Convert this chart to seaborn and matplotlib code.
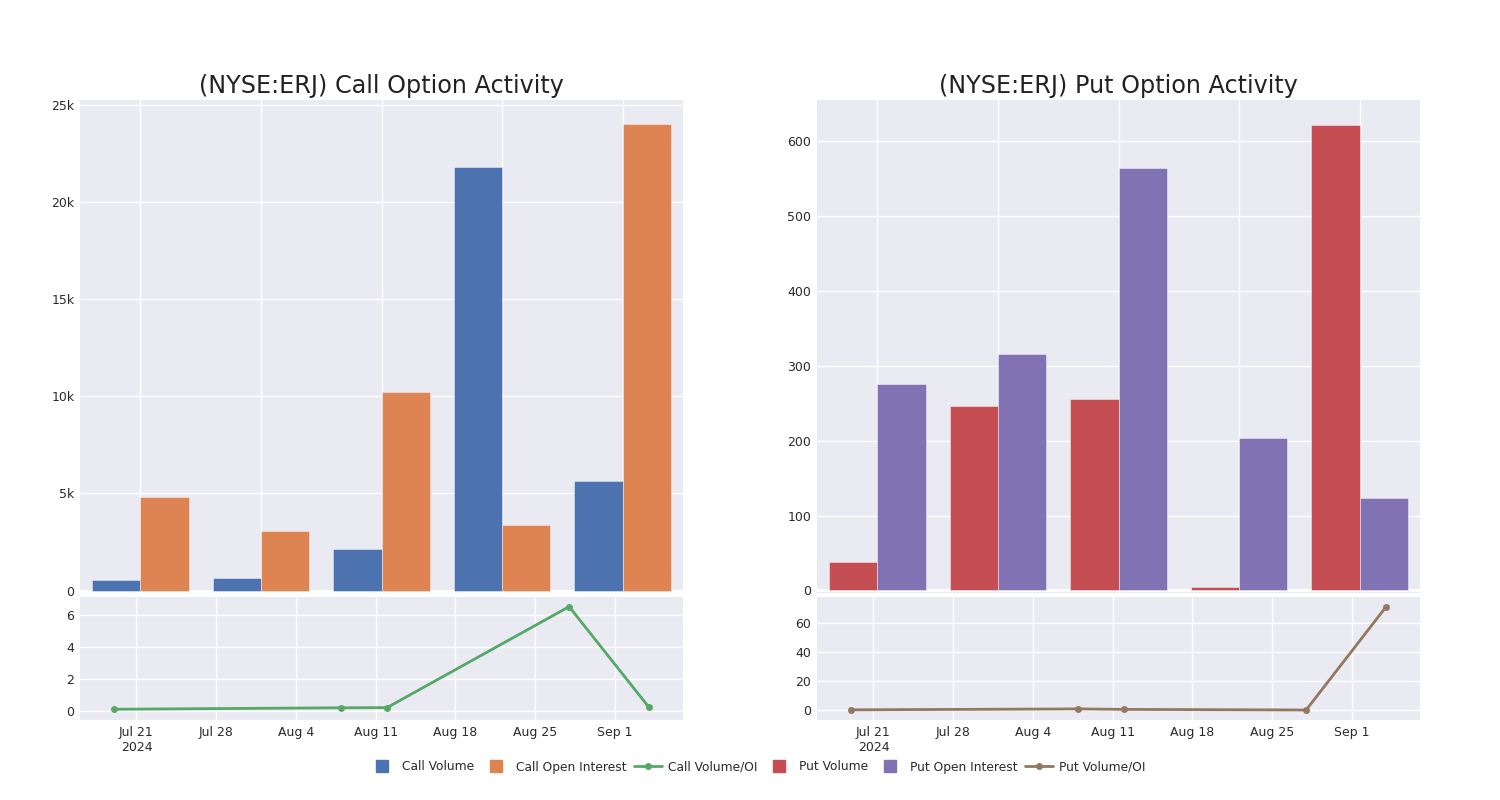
import matplotlib
matplotlib.use("Agg")
import matplotlib.pyplot as plt
import matplotlib.dates as mdates
from matplotlib.lines import Line2D
from matplotlib.ticker import FixedLocator, FuncFormatter
import numpy as np
import pandas as pd
import seaborn as sns

# ---------------- data ----------------
groups = ["Jul 19", "Aug 8", "Aug 12", "Aug 28", "Sep 4"]
ratio_dates = pd.to_datetime(["2024-07-19", "2024-08-08", "2024-08-12", "2024-08-28", "2024-09-04"])
call_volume = [540, 640, 2140, 21800, 5660]
call_oi = [4830, 3050, 10230, 3360, 24020]
call_ratio = [0.11, 0.20, 0.21, 6.50, 0.24]
put_volume = [38, 246, 256, 5, 622]
put_oi = [276, 316, 564, 203, 123]
put_ratio = [0.14, 0.78, 0.45, 0.03, 71.3]

c_blue, c_orange, c_green = "#4C72B0", "#DD8452", "#55A868"
c_red, c_purple, c_brown = "#C44E52", "#8172B3", "#937860"

sns.set_theme(style="darkgrid", rc={"axes.facecolor": "#EAEAF2", "grid.color": "white"})
plt.rcParams["font.family"] = ["DejaVu Sans"]

fig = plt.figure(figsize=(15, 8), dpi=100)

W, H = 1500, 800
def box(l, t, r, b):
    return [l / W, 1 - b / H, (r - l) / W, (b - t) / H]

xlim_dates = (pd.Timestamp("2024-07-16 01:00"), pd.Timestamp("2024-09-07 00:00"))

def k_fmt(v, pos):
    if v == 0:
        return "0"
    return f"{int(v/1000)}k"

def date_fmt(v, pos):
    d = mdates.num2date(v)
    s = f"{d.strftime('%b')} {d.day}"
    if pos == 0:
        s += "\n2024"
    return s

def make_panel(left, right, title, vol, oi, ratio, cvol, coi, cratio,
               ylim_top, yticks, yfmt, ylim_bot, bticks):
    ax = fig.add_axes(box(left, 100, right, 592.5))
    df = pd.DataFrame({
        "group": groups * 2,
        "value": list(vol) + list(oi),
        "series": ["vol"] * len(groups) + ["oi"] * len(groups),
    })
    sns.barplot(data=df, x="group", y="value", hue="series", palette=[cvol, coi],
                width=0.8, saturation=1, ax=ax, legend=False,
                edgecolor=(1, 1, 1, 0.5), linewidth=0.6)
    ax.axhline(0, color="white", lw=2, zorder=0.5)
    ax.set_xlim(-0.5, 4.5)
    ax.set_ylim(*ylim_top)
    ax.yaxis.set_major_locator(FixedLocator(yticks))
    ax.yaxis.set_major_formatter(FuncFormatter(yfmt))
    ax.set_xticklabels([])
    ax.set_xlabel("")
    ax.set_ylabel("")
    ax.tick_params(axis="both", length=0, labelsize=9, colors="#2a2a2a", pad=4)
    ax.grid(True, color="white", lw=1)
    ax.set_axisbelow(True)
    for s in ax.spines.values():
        s.set_visible(False)
    ax.set_title(title, fontsize=17.2, color="#222222", pad=5)

    bx = fig.add_axes(box(left, 596.7, right, 720))
    sns.lineplot(x=ratio_dates, y=ratio, color=cratio, marker="o", markersize=5,
                 markeredgewidth=0, lw=2, ax=bx)
    bx.set_xlim(*xlim_dates)
    bx.set_ylim(*ylim_bot)
    bx.yaxis.set_major_locator(FixedLocator(bticks))
    bx.xaxis.set_major_locator(mdates.WeekdayLocator(byweekday=mdates.SU))
    bx.xaxis.set_major_formatter(FuncFormatter(date_fmt))
    bx.set_xlabel("")
    bx.set_ylabel("")
    bx.tick_params(axis="both", length=0, labelsize=9, colors="#2a2a2a", pad=4)
    bx.grid(True, color="white", lw=1)
    for s in bx.spines.values():
        s.set_visible(False)
    for lbl in bx.get_xticklabels():
        lbl.set_horizontalalignment("center")
        lbl.set_multialignment("center")

make_panel(80, 683, "(NYSE:ERJ) Call Option Activity", call_volume, call_oi, call_ratio,
           c_blue, c_orange, c_green, (-100, 25260), [0, 5000, 10000, 15000, 20000, 25000],
           k_fmt, (-0.56, 7.12), [0, 2, 4, 6])
make_panel(817, 1420, "(NYSE:ERJ) Put Option Activity", put_volume, put_oi, put_ratio,
           c_red, c_purple, c_brown, (-2.7, 655), [0, 100, 200, 300, 400, 500, 600],
           lambda v, p: f"{int(v)}", (-6.9, 78.5), [0, 20, 40, 60])

handles = [
    Line2D([], [], color=c_blue, marker="s", linestyle="none", markersize=9),
    Line2D([], [], color=c_orange, marker="s", linestyle="none", markersize=9),
    Line2D([], [], color=c_green, marker="o", markersize=4, lw=2),
    Line2D([], [], color=c_red, marker="s", linestyle="none", markersize=9),
    Line2D([], [], color=c_purple, marker="s", linestyle="none", markersize=9),
    Line2D([], [], color=c_brown, marker="o", markersize=4, lw=2),
]
labels = ["Call Volume", "Call Open Interest", "Call Volume/OI",
          "Put Volume", "Put Open Interest", "Put Volume/OI"]
fig.legend(handles, labels, loc="center", bbox_to_anchor=(757 / W, 1 - 767 / H),
           ncol=6, frameon=False, fontsize=8.8, handlelength=2.3, columnspacing=0.6,
           handletextpad=0.5, labelcolor="#2a2a2a")

fig.savefig("out.png", dpi=100, facecolor="white")
